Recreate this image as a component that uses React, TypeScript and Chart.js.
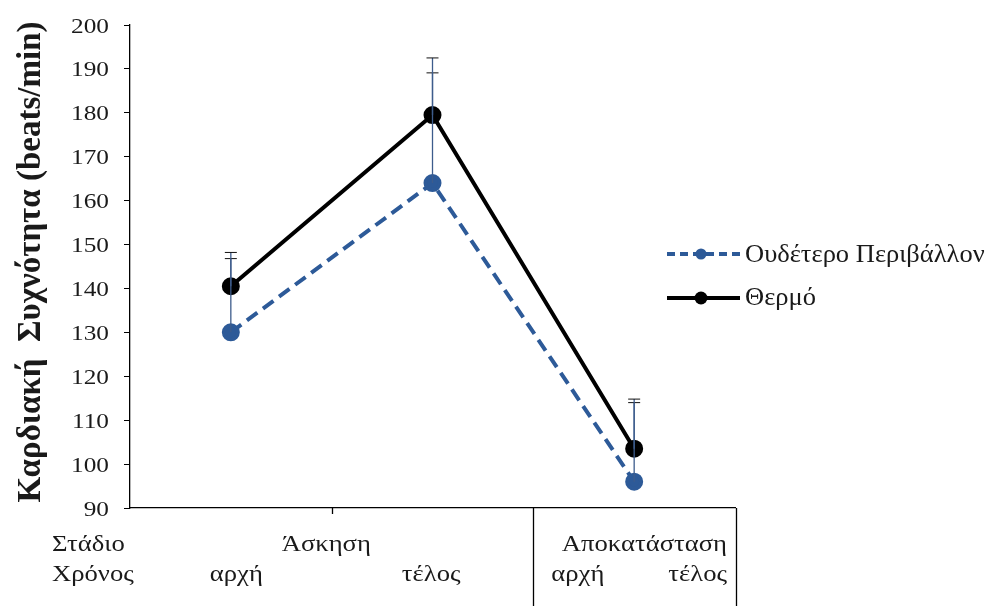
import { useEffect, useRef } from "react";
import { Chart, registerables } from "chart.js";

Chart.register(...registerables);

const FONT = '"Liberation Serif", "Times New Roman", serif';

// Heart-rate means and the tops of their one-sided error bars
const timePoints = ["Άσκηση αρχή", "Άσκηση τέλος", "Αποκατάσταση"];
const neutralMean = [130, 164, 96];
const neutralUpper = [146.8, 189.1, 114.0];
const hotMean = [140.5, 179.5, 103.5];
const hotUpper = [148.2, 192.5, 114.8];

const seriesNames = ["Ουδέτερο Περιβάλλον", "Θερμό"];
const yTitle = "Καρδιακή  Συχνότητα (beats/min)";
const yMin = 90;
const yMax = 200;
const yStep = 10;

const stageRow = ["Στάδιο", "Άσκηση", "Αποκατάσταση"];
const timeRow = ["Χρόνος", "αρχή", "τέλος", "αρχή", "τέλος"];

const BLUE = "#2D5A98";
const BLACK = "#000000";
const TEXT = "#1a1a1a";

// text with a slight horizontal widening
function wideText(
  ctx: CanvasRenderingContext2D,
  text: string,
  x: number,
  y: number,
  align: CanvasTextAlign,
  font: string,
  sx: number
) {
  ctx.save();
  ctx.translate(x, y);
  ctx.scale(sx, 1);
  ctx.font = font;
  ctx.textAlign = align;
  ctx.textBaseline = "alphabetic";
  ctx.fillStyle = TEXT;
  ctx.fillText(text, 0, 0);
  ctx.restore();
}

const extrasPlugin = {
  id: "hrExtras",
  afterDatasetsDraw(chart: any) {
    const ctx = chart.ctx as CanvasRenderingContext2D;
    const y = chart.scales.y;
    const uppers = [neutralUpper, hotUpper];
    ctx.save();
    uppers.forEach((up, d) => {
      const meta = chart.getDatasetMeta(d);
      meta.data.forEach((pt: any, i: number) => {
        const yTop = y.getPixelForValue(up[i]);
        ctx.strokeStyle = "#3d5c8c";
        ctx.lineWidth = 1.3;
        ctx.beginPath();
        ctx.moveTo(pt.x, pt.y);
        ctx.lineTo(pt.x, yTop);
        ctx.stroke();
        ctx.strokeStyle = "#111";
        ctx.lineWidth = 1;
        ctx.beginPath();
        ctx.moveTo(pt.x - 6, yTop);
        ctx.lineTo(pt.x + 6, yTop);
        ctx.stroke();
      });
    });
    ctx.restore();
  },
  afterDraw(chart: any) {
    const ctx = chart.ctx as CanvasRenderingContext2D;
    const area = chart.chartArea;
    const yScale = chart.scales.y;
    const band = (area.right - area.left) / timePoints.length;
    const bx = (k: number) => area.left + k * band;
    const H = chart.height;

    ctx.save();
    // y tick labels
    for (let v = yMin; v <= yMax; v += yStep) {
      wideText(ctx, String(v), 109, yScale.getPixelForValue(v) + 7.5, "right", `22px ${FONT}`, 1.15);
    }

    // x-axis tick and the box round the recovery stage
    ctx.strokeStyle = "#000";
    ctx.lineWidth = 1.3;
    ctx.beginPath();
    ctx.moveTo(Math.round(bx(1)) + 0.5, area.bottom);
    ctx.lineTo(Math.round(bx(1)) + 0.5, area.bottom + 6);
    ctx.moveTo(Math.round(bx(2)) + 0.5, area.bottom);
    ctx.lineTo(Math.round(bx(2)) + 0.5, H);
    ctx.moveTo(Math.round(bx(3)) + 1.5, area.bottom);
    ctx.lineTo(Math.round(bx(3)) + 1.5, H);
    ctx.stroke();

    // two rows of labels under the axis
    const f = `24px ${FONT}`;
    const sx = 1.11;
    const r1 = area.bottom + 43;
    const r2 = area.bottom + 73;
    wideText(ctx, stageRow[0], 52, r1, "left", f, sx);
    wideText(ctx, stageRow[1], bx(1) - 50, r1, "left", f, sx);
    wideText(ctx, stageRow[2], bx(3) - 8, r1, "right", f, sx);
    wideText(ctx, timeRow[0], 52, r2, "left", f, sx);
    wideText(ctx, timeRow[1], bx(0.5) - 21, r2, "left", f, sx);
    wideText(ctx, timeRow[2], bx(1.5) + 28, r2, "right", f, sx);
    wideText(ctx, timeRow[3], bx(2) + 18, r2, "left", f, sx);
    wideText(ctx, timeRow[4], bx(3) - 8, r2, "right", f, sx);

    // rotated y-axis title
    ctx.save();
    ctx.translate(31, 262);
    ctx.rotate(-Math.PI / 2);
    ctx.textAlign = "center";
    ctx.textBaseline = "middle";
    ctx.font = `bold 33px ${FONT}`;
    ctx.fillStyle = TEXT;
    ctx.fillText(yTitle, 0, 0);
    ctx.restore();

    // legend
    const items = [
      { label: seriesNames[0], color: BLUE, dash: [8, 5], y: 254, r: 5.5, ty: 262 },
      { label: seriesNames[1], color: BLACK, dash: [] as number[], y: 298, r: 6.5, ty: 305 },
    ];
    items.forEach((it) => {
      ctx.strokeStyle = it.color;
      ctx.lineWidth = 4;
      ctx.setLineDash(it.dash);
      ctx.beginPath();
      ctx.moveTo(667, it.y);
      ctx.lineTo(740, it.y);
      ctx.stroke();
      ctx.setLineDash([]);
      ctx.fillStyle = it.color;
      ctx.beginPath();
      ctx.arc(701, it.y, it.r, 0, Math.PI * 2);
      ctx.fill();
      wideText(ctx, it.label, 745, it.ty, "left", `25px ${FONT}`, 1.06);
    });
    ctx.restore();
  },
};

export default function App() {
  const ref = useRef<HTMLCanvasElement | null>(null);

  useEffect(() => {
    if (!ref.current) return;
    const chart = new Chart(ref.current, {
      type: "line",
      data: {
        labels: timePoints,
        datasets: [
          {
            label: seriesNames[0],
            data: neutralMean,
            borderColor: BLUE,
            backgroundColor: BLUE,
            borderWidth: 4,
            borderDash: [13, 7],
            pointRadius: 7,
            pointBackgroundColor: BLUE,
            pointBorderColor: BLUE,
            tension: 0,
          },
          {
            label: seriesNames[1],
            data: hotMean,
            borderColor: BLACK,
            backgroundColor: BLACK,
            borderWidth: 4,
            pointRadius: 7,
            pointBackgroundColor: BLACK,
            pointBorderColor: BLACK,
            tension: 0,
          },
        ],
      },
      options: {
        responsive: false,
        animation: false,
        devicePixelRatio: 1,
        layout: { padding: { left: 0, right: 255, top: 25, bottom: 0 } },
        plugins: {
          legend: { display: false },
          tooltip: { enabled: false },
        },
        scales: {
          x: {
            type: "category",
            offset: true,
            grid: { display: false },
            ticks: { display: false },
            border: { display: true, color: "#000", width: 1.3 },
            afterFit: (s: any) => {
              s.height = 98;
            },
          },
          y: {
            min: yMin,
            max: yMax,
            ticks: { stepSize: yStep, display: false },
            grid: {
              display: true,
              drawOnChartArea: false,
              drawTicks: true,
              tickLength: 6,
              color: "#000",
            },
            border: { display: true, color: "#000", width: 1.3 },
            afterFit: (s: any) => {
              s.width = 130;
            },
          },
        },
      },
      plugins: [extrasPlugin],
    });

    // redraw once the serif faces are ready so canvas text uses them
    let alive = true;
    const fonts = (document as any).fonts;
    if (fonts && fonts.load) {
      Promise.all([
        fonts.load(`22px ${FONT}`, "0123456789Στάδιο"),
        fonts.load(`bold 33px ${FONT}`, "Καρδιακή beats"),
      ])
        .then(() => {
          if (alive) chart.draw();
        })
        .catch(() => {});
    }
    return () => {
      alive = false;
      chart.destroy();
    };
  }, []);

  return (
    <div style={{ position: "absolute", left: 0, top: 0, width: 990, height: 606, background: "#fff" }}>
      <canvas ref={ref} width={990} height={606} />
    </div>
  );
}
